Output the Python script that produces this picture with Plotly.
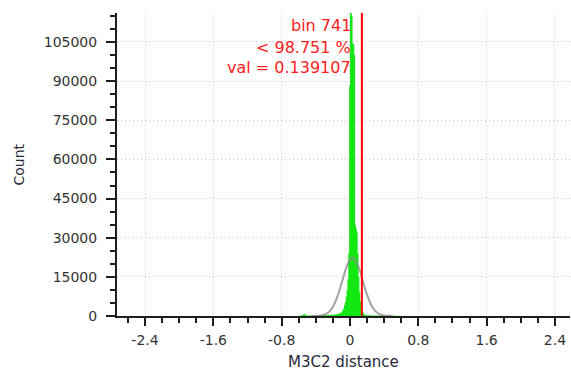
import plotly.graph_objects as go

# ---- data ----
bin_start = -0.60
bin_width = 0.01
counts = [
    # -0.60 .. -0.50
    100, 120, 150, 200, 350, 600, 900, 700, 300, 200,
    # -0.50 .. -0.40
    150, 150, 160, 170, 180, 190, 200, 210, 220, 230,
    # -0.40 .. -0.30
    240, 255, 250, 270, 285, 280, 300, 315, 310, 330,
    # -0.30 .. -0.20
    340, 360, 350, 380, 400, 420, 410, 450, 480, 500,
    # -0.20 .. -0.10
    520, 560, 600, 650, 700, 780, 850, 950, 1100, 1300,
    # -0.10 .. 0.00
    1600, 2200, 3000, 4200, 5500, 7500, 10000, 14000, 24000, 88000,
    # 0.00 .. 0.10
    116100, 116100, 115000, 104500, 104000, 100000, 35000, 33500, 32000, 24000,
    # 0.10 .. 0.20
    15000, 9000, 5500, 3500, 2200, 1400, 900, 600, 400, 300,
    # 0.20 .. 0.30
    280, 270, 260, 250, 240, 235, 230, 220, 215, 210,
    # 0.30 .. 0.40
    200, 195, 190, 180, 175, 170, 165, 160, 150, 145,
    # 0.40 .. 0.50
    140, 135, 130, 125, 120, 118, 115, 110, 105, 100,
    # 0.50 .. 0.60
    100, 95, 90, 90, 85, 80, 80, 75, 70, 70,
]
# bin edges for a step-filled histogram
bin_edges = [bin_start + bin_width * i for i in range(len(counts) + 1)]
step_y = counts + [counts[-1]]

# fitted gaussian curve
fit_x = [-0.45, -0.40, -0.35, -0.30, -0.25, -0.20, -0.15, -0.10, -0.05, 0.00, 0.03,
         0.05, 0.10, 0.15, 0.20, 0.25, 0.30, 0.35, 0.40, 0.45, 0.50]
fit_y = [10, 36, 149, 509, 1466, 3552, 7241, 12400, 17860, 21610, 22300,
         21990, 18820, 13530, 8177, 4152, 1775, 637, 192, 49, 10]

marker_value = 0.139107
label_lines = ["bin 741", "< 98.751 %", "val = 0.139107"]

x_tick_vals = [-2.4, -1.6, -0.8, 0, 0.8, 1.6, 2.4]
x_tick_text = ["-2.4", "-1.6", "-0.8", "0", "0.8", "1.6", "2.4"]
y_tick_vals = [0, 15000, 30000, 45000, 60000, 75000, 90000, 105000]
y_tick_text = ["0", "15000", "30000", "45000", "60000", "75000", "90000", "105000"]

x_range = [-2.728, 2.576]
y_range = [0, 116100]

FONT = "DejaVu Sans"
TXT = "#333333"
AX = "#1e1e1e"

fig = go.Figure()
fig.add_trace(go.Scatter(
    x=bin_edges, y=step_y, mode="lines",
    line=dict(color="#14e814", width=0, shape="hv"),
    fill="tozeroy", fillcolor="#14e814",
    showlegend=False, hoverinfo="skip",
))
fig.add_trace(go.Scatter(
    x=fit_x, y=fit_y, mode="lines",
    line=dict(color="rgba(140,140,140,0.8)", width=2, shape="spline"),
    showlegend=False, hoverinfo="skip",
))

fig.add_shape(type="line", xref="x", yref="paper", x0=marker_value, x1=marker_value,
              y0=0, y1=1, line=dict(color="#ff0000", width=2))

# red labels
label_y_px = [26, 47.5, 67.5]
plot_top, plot_bottom = 13, 316
for txt, ypx in zip(label_lines, label_y_px):
    fig.add_annotation(
        x=0.03, xref="x", xanchor="right",
        y=(plot_bottom - ypx) / (plot_bottom - plot_top), yref="paper", yanchor="middle",
        text=txt, showarrow=False,
        font=dict(family=FONT, size=16, color="#ff2020"),
    )

# axis titles
fig.add_annotation(x=(18 - 117) / 453, xref="paper", y=0.5, yref="paper",
                   text="Count", textangle=-90, showarrow=False,
                   xanchor="center", yanchor="middle",
                   font=dict(family=FONT, size=14, color="#2a2a3a"))
fig.add_annotation(x=0.5, xref="paper", y=(316 - 362) / 303, yref="paper",
                   text="M3C2 distance", showarrow=False,
                   xanchor="center", yanchor="middle",
                   font=dict(family=FONT, size=15, color="#2a2a3a"))

fig.update_layout(
    width=571, height=372,
    margin=dict(l=117, r=1, t=13, b=56),
    paper_bgcolor="white", plot_bgcolor="white",
    font=dict(family=FONT, size=14, color=TXT),
    xaxis=dict(
        range=x_range, tickvals=x_tick_vals, ticktext=x_tick_text,
        showline=True, linecolor=AX, linewidth=2,
        ticks="outside", ticklen=8, tickwidth=2, tickcolor=AX,
        showgrid=True, gridcolor="#c4c4c4", griddash="1px,3px", gridwidth=1,
        zeroline=False, ticklabelstandoff=2,
        minor=dict(dtick=0.2, tick0=0, ticks="outside", ticklen=5, tickwidth=2,
                   tickcolor=AX, showgrid=False),
        tickfont=dict(family=FONT, size=14, color=TXT),
    ),
    yaxis=dict(
        range=y_range, tickvals=y_tick_vals, ticktext=y_tick_text,
        showline=True, linecolor=AX, linewidth=2,
        ticks="outside", ticklen=9, tickwidth=2, tickcolor=AX,
        showgrid=True, gridcolor="#c4c4c4", griddash="1px,3px", gridwidth=1,
        zeroline=False, ticklabelstandoff=6,
        minor=dict(dtick=5000, tick0=0, ticks="outside", ticklen=5, tickwidth=2,
                   tickcolor=AX, showgrid=False),
        tickfont=dict(family=FONT, size=14, color=TXT),
    ),
)

fig.write_html("out.html")
